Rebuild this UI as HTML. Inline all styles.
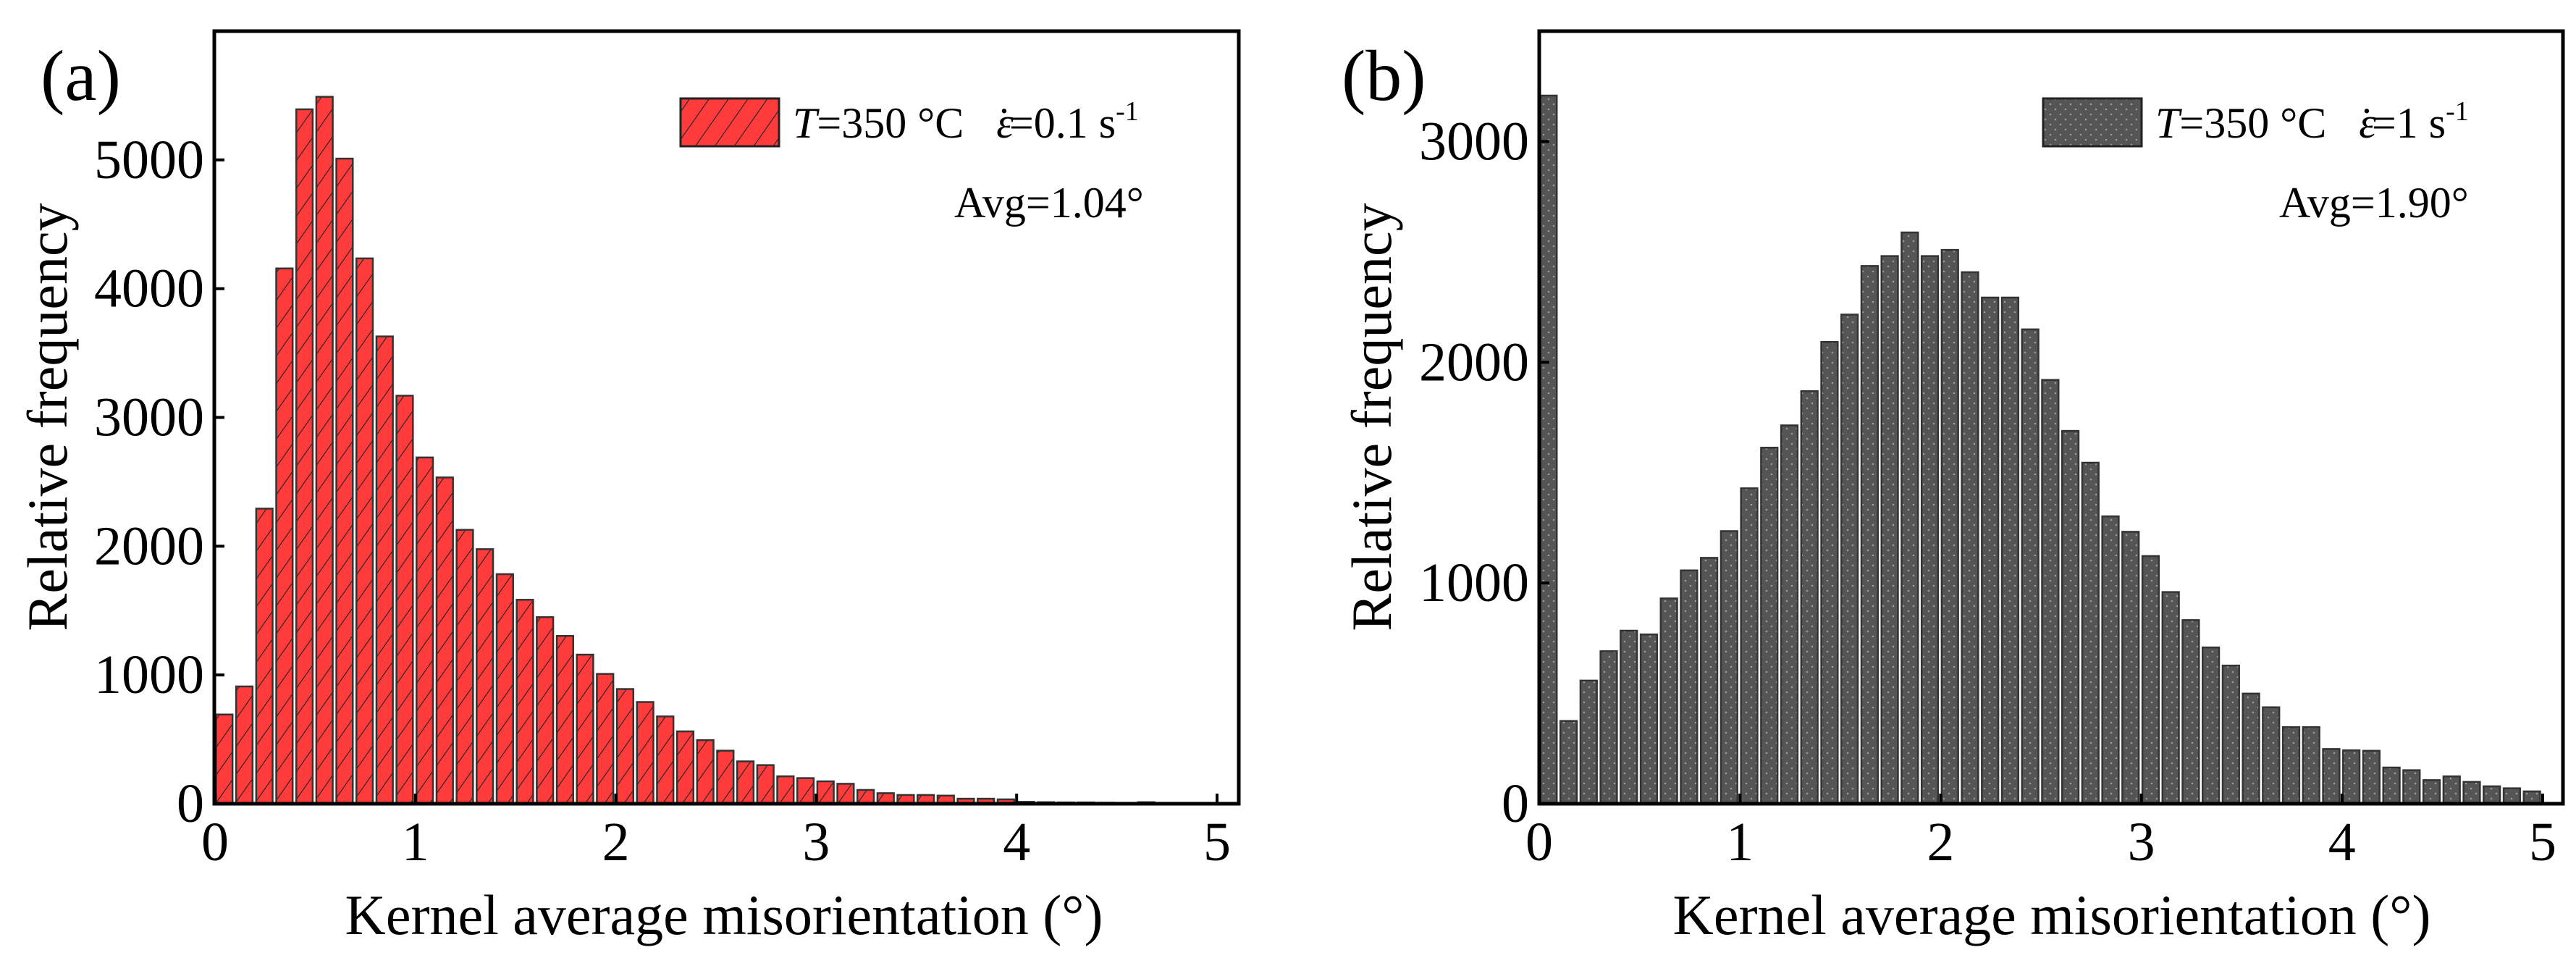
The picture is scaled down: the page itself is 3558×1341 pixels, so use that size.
<!DOCTYPE html>
<html><head><meta charset="utf-8">
<style>
html,body{margin:0;padding:0;background:#fff;}
svg{display:block;font-family:"Liberation Serif",serif;}
text{white-space:pre;}
</style></head>
<body>
<svg id="fig" width="3558" height="1341" viewBox="0 0 3558 1341" xmlns="http://www.w3.org/2000/svg">
<defs>
<pattern id="hatch" patternUnits="userSpaceOnUse" width="22" height="22" patternTransform="rotate(35)">
<rect width="22" height="22" fill="#ff3b3b"/>
<line x1="0" y1="0" x2="0" y2="22" stroke="#222" stroke-width="2.2"/>
</pattern>
<pattern id="dots" patternUnits="userSpaceOnUse" width="14" height="14">
<rect width="14" height="14" fill="#555"/>
<circle cx="4" cy="4" r="1.3" fill="#9a9a9a"/>
<circle cx="11" cy="11" r="1.3" fill="#9a9a9a"/>
</pattern>
</defs>
<g id="pa"></g>
<g id="pb"></g>
</svg>
<script>
const binWidth = 0.1;
const valuesA = [693,911,2292,4157,5393,5490,5010,4235,3629,3169,2689,2534,2127,1977,1783,1584,1449,1303,1158,1008,891,790,678,562,494,412,329,300,213,199,174,155,107,82,68,68,63,39,39,34,15,12,10,10,8,6,12,5,4,3];
const valuesB = [3208,375,558,691,784,767,930,1057,1114,1235,1429,1613,1714,1869,2092,2216,2436,2481,2588,2481,2509,2408,2293,2293,2149,1920,1689,1545,1302,1232,1122,959,832,708,626,499,437,347,347,248,242,240,164,152,107,124,99,79,70,56];
const yTicksA = [0,1000,2000,3000,4000,5000];
const yTicksB = [0,1000,2000,3000];
const xTicks = [0,1,2,3,4,5];

const NS = "http://www.w3.org/2000/svg";
function mk(parent, tag, attrs, text){
  const e = document.createElementNS(NS, tag);
  for (const k in attrs) e.setAttribute(k, attrs[k]);
  if (text !== undefined) e.textContent = text;
  parent.appendChild(e);
  return e;
}

function panel(g, cfg){
  const {L,R,T,B,x0,x5,yMax,values,yTicks,fill,letter,legRate,avg,legX,avgX,yLabX,titleX,letterX,xTitleX} = cfg;
  const xs = v => x0 + (x5-x0)*v/5;
  const ys = v => B - (B-T)*v/yMax;
  const bars = mk(g,'g',{});
  
  
  values.forEach((v,i)=>{
    const xa = xs(i*binWidth), xb = xs((i+1)*binWidth);
    const r = mk(bars,'rect',{x:xa+1.5,y:ys(v),width:(xb-xa)-5,height:B-ys(v),fill:fill,stroke:'#333','stroke-width':2.5});
    
    
  });
  const fr = mk(g,'rect',{x:L,y:T,width:R-L,height:B-T,fill:'none',stroke:'#000','stroke-width':5});
  
  
  yTicks.forEach(t=>{
    mk(g,'line',{x1:L,x2:L+14,y1:ys(t),y2:ys(t),stroke:'#000','stroke-width':4});
    const tx = mk(g,'text',{x:yLabX,y:ys(t)+25,'font-size':76,'text-anchor':'end'},String(t));
    
    
  });
  xTicks.forEach(t=>{
    mk(g,'line',{x1:xs(t),x2:xs(t),y1:B,y2:B-14,stroke:'#000','stroke-width':4});
    const tx = mk(g,'text',{x:xs(t),y:1188,'font-size':76,'text-anchor':'middle'},String(t));
    
    
  });
  const xt = mk(g,'text',{x:xTitleX,y:1290,'font-size':78,'text-anchor':'middle'},'Kernel average misorientation (°)');
  
  
  const yt = mk(g,'text',{x:0,y:0,'font-size':78,'text-anchor':'middle',transform:`translate(${titleX},576) rotate(-90)`},'Relative frequency');
  
  
  const lt = mk(g,'text',{x:letterX,y:138,'font-size':100},letter);
  
  
  const lg = mk(g,'g',{});
  
  
  mk(lg,'rect',{x:legX,y:136,width:136,height:66,fill:fill,stroke:'#222','stroke-width':3});
  const txt = mk(lg,'text',{x:legX+155,y:190,'font-size':60});
  mk(txt,'tspan',{'font-style':'italic'},'T');
  mk(txt,'tspan',{},'=350 °C   ');
  mk(txt,'tspan',{'font-style':'italic'},'ε');
  mk(txt,'tspan',{dx:-23},'˙');
  mk(txt,'tspan',{dx:-3},legRate+' s');
  mk(txt,'tspan',{dy:-24,'font-size':38},'-1');
  const av = mk(g,'text',{x:avgX,y:300,'font-size':60},avg);
  
  
}

panel(document.getElementById('pa'),{L:296,R:1711,T:43,B:1110,x0:297,x5:1681,yMax:6000,values:valuesA,yTicks:yTicksA,fill:'url(#hatch)',letter:'(a)',legRate:'=0.1',avg:'Avg=1.04°',legX:940,avgX:1318,yLabX:282,titleX:92,letterX:56,xTitleX:1000});
panel(document.getElementById('pb'),{L:2126,R:3540,T:43,B:1110,x0:2126,x5:3512,yMax:3500,values:valuesB,yTicks:yTicksB,fill:'url(#dots)',letter:'(b)',legRate:'=1',avg:'Avg=1.90°',legX:2822,avgX:3148,yLabX:2112,titleX:1921,letterX:1853,xTitleX:2834});
</script>
</body></html>
